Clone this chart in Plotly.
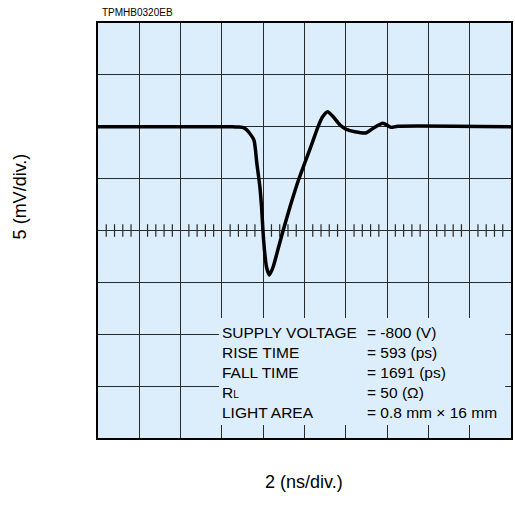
import plotly.graph_objects as go

# Waveform (time in ns, output in mV)
time_ns = [0, 6.49, 6.83, 7.07, 7.21, 7.55, 7.69, 7.84, 7.93, 7.99, 8.06, 8.16, 8.30,
           8.48, 8.75, 8.96, 9.31, 9.71, 10.05, 10.39, 10.63, 10.87, 11.12, 11.39, 11.72,
           12.03, 12.44, 13.0, 13.32, 13.80, 14.04, 14.20, 14.52, 20]
signal_mv = [10, 10, 9.97, 9.9, 9.68, 8.72, 6.5, 4.19, 1.98, -0.05, -1.88, -3.52, -4.29,
             -3.52, -1.56, -0.05, 2.36, 4.87, 6.70, 8.53, 9.87, 10.93, 11.45, 10.96, 10.17,
             9.75, 9.52, 9.42, 9.85, 10.33, 10.10, 9.94, 10.05, 10]

info_labels = ["SUPPLY VOLTAGE", "RISE TIME", "FALL TIME",
               "R<span style='font-size:10px'>L</span>", "LIGHT AREA"]
info_values = ["= -800 (V)", "= 593 (ps)", "= 1691 (ps)", "= 50 (Ω)", "= 0.8 mm × 16 mm"]

x_div, y_div = 2, 5          # ns/div, mV/div
n_x, n_y = 10, 8

FONT = "Liberation Sans, Arial, Helvetica, sans-serif"
BG = "#DCEEFB"
GRID = "#2a2a2a"

PL, PR, PT, PB = 98, 513, 23, 438   # plot-area edges in page pixels
PW, PH = PR - PL, PB - PT

fig = go.Figure()

# minor ticks on centre horizontal graticule line
minor_x = [i * x_div / 5 for i in range(1, n_x * 5) if i % 5 != 0]
fig.add_trace(go.Scatter(x=minor_x, y=[0] * len(minor_x), mode="markers",
                         marker=dict(symbol="line-ns", size=9,
                                     line=dict(width=1.2, color=GRID)),
                         hoverinfo="skip", showlegend=False))

fig.add_trace(go.Scatter(x=time_ns, y=signal_mv, mode="lines",
                         line=dict(color="black", width=3.5, shape="spline", smoothing=0.6),
                         hoverinfo="skip", showlegend=False))

# background panel for the info text
fig.add_shape(type="rect", xref="x", yref="y",
              x0=2.93 * x_div, x1=9.86 * x_div, y0=-1.686 * y_div, y1=-3.75 * y_div,
              fillcolor=BG, line=dict(width=0), layer="above")


def px(x):
    return (x - PL) / PW


def py(y):
    return (PB - y) / PH


row_y = [332, 352, 372, 392, 412]
for lab, val, yy in zip(info_labels, info_values, row_y):
    fig.add_annotation(xref="paper", yref="paper", x=px(222), y=py(yy),
                       text=lab, showarrow=False, xanchor="left", yanchor="middle",
                       borderpad=0, font=dict(family=FONT, size=15.5, color="black"))
    fig.add_annotation(xref="paper", yref="paper", x=px(367), y=py(yy),
                       text=val, showarrow=False, xanchor="left", yanchor="middle",
                       borderpad=0, font=dict(family=FONT, size=15.5, color="black"))

fig.add_annotation(xref="paper", yref="paper", x=px(100), y=py(12.5),
                   text="TPMHB0320EB", showarrow=False, xanchor="left", yanchor="middle",
                   font=dict(family=FONT, size=10, color="black"))
fig.add_annotation(xref="paper", yref="paper", x=px(20), y=py(196),
                   text="5 (mV/div.)", textangle=-90, showarrow=False,
                   xanchor="center", yanchor="middle",
                   font=dict(family=FONT, size=18, color="black"))
fig.add_annotation(xref="paper", yref="paper", x=px(305), y=py(482),
                   text="2 (ns/div.)", showarrow=False,
                   xanchor="center", yanchor="middle",
                   font=dict(family=FONT, size=18, color="black"))

fig.update_xaxes(range=[0, n_x * x_div], dtick=x_div, showticklabels=False, ticks="",
                 showgrid=True, gridcolor=GRID, gridwidth=1, zeroline=False,
                 showline=True, linecolor="black", linewidth=2, mirror=True, fixedrange=True)
fig.update_yaxes(range=[-n_y / 2 * y_div, n_y / 2 * y_div], dtick=y_div,
                 showticklabels=False, ticks="",
                 showgrid=True, gridcolor=GRID, gridwidth=1, zeroline=False,
                 showline=True, linecolor="black", linewidth=2, mirror=True, fixedrange=True)

fig.update_layout(width=515, height=521, autosize=False,
                  margin=dict(l=PL, r=515 - PR, t=PT, b=521 - PB),
                  plot_bgcolor=BG, paper_bgcolor="white",
                  showlegend=False, hovermode=False,
                  font=dict(family=FONT))

fig.write_html("out.html", config={"displayModeBar": False},
               post_script="document.body.style.margin='0';document.body.style.overflow='hidden';")
